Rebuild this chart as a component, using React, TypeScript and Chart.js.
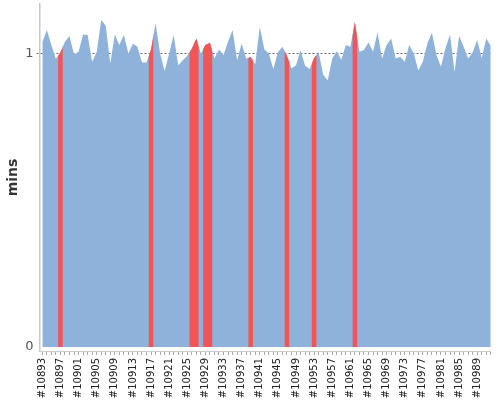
import React, { useEffect, useRef } from "react";
import { Chart, registerables } from "chart.js";

const categories: string[] = [
  "#10893", "#10894", "#10895", "#10896", "#10897", "#10898", "#10899", "#10900", "#10901", "#10902",
  "#10903", "#10904", "#10905", "#10906", "#10907", "#10908", "#10909", "#10910", "#10911", "#10912",
  "#10913", "#10914", "#10915", "#10916", "#10917", "#10918", "#10919", "#10920", "#10921", "#10922",
  "#10923", "#10924", "#10925", "#10926", "#10927", "#10928", "#10929", "#10930", "#10931", "#10932",
  "#10933", "#10934", "#10935", "#10936", "#10937", "#10938", "#10939", "#10940", "#10941", "#10942",
  "#10943", "#10944", "#10945", "#10946", "#10947", "#10948", "#10949", "#10950", "#10951", "#10952",
  "#10953", "#10954", "#10955", "#10956", "#10957", "#10958", "#10959", "#10960", "#10961", "#10962",
  "#10963", "#10964", "#10965", "#10966", "#10967", "#10968", "#10969", "#10970", "#10971", "#10972",
  "#10973", "#10974", "#10975", "#10976", "#10977", "#10978", "#10979", "#10980", "#10981", "#10982",
  "#10983", "#10984", "#10985", "#10986", "#10987", "#10988", "#10989", "#10990", "#10991", "#10992",
];

const durations: number[] = [
  1.039, 1.081, 1.030, 0.982, 1.005, 1.041, 1.061, 0.998, 1.007, 1.066,
  1.064, 0.973, 1.005, 1.115, 1.096, 0.967, 1.066, 1.030, 1.064, 1.001,
  1.034, 1.024, 0.970, 0.970, 1.015, 1.104, 1.001, 0.941, 1.001, 1.064,
  0.961, 0.978, 0.993, 1.017, 1.052, 1.001, 1.030, 1.038, 0.984, 1.015,
  0.996, 1.041, 1.081, 0.978, 1.035, 0.984, 0.989, 0.964, 1.092, 1.016,
  1.001, 0.948, 1.005, 1.024, 0.993, 0.950, 0.961, 1.013, 0.959, 0.948,
  0.986, 1.005, 0.929, 0.910, 0.984, 1.009, 0.980, 1.030, 1.024, 1.109,
  1.007, 1.013, 1.039, 1.007, 1.073, 0.984, 1.030, 1.052, 0.984, 0.990,
  0.973, 1.030, 1.001, 0.944, 0.973, 1.035, 1.073, 0.996, 0.956, 1.020,
  1.066, 0.939, 1.061, 1.024, 0.984, 1.005, 1.047, 0.986, 1.052, 1.027,
];

const highlighted: string[] = [
  "#10897", "#10917", "#10926", "#10927", "#10929", "#10930", "#10939", "#10947", "#10953", "#10962",
];

const yTicks: number[] = [0, 1];

const BLUE = "#8FB2DB";
const RED = "#F25555";

const highlightClip = {
  id: "highlightClip",
  beforeDatasetDraw(chart: any, args: any) {
    const ds = chart.data.datasets[args.index];
    if (ds.label !== "highlight") return;
    const xs = chart.scales.x;
    const area = chart.chartArea;
    const ctx = chart.ctx;
    ctx.save();
    ctx.beginPath();
    for (const lab of highlighted) {
      const i = categories.indexOf(lab);
      if (i < 0) continue;
      const l = xs.getPixelForValue(i - 0.5);
      const r = xs.getPixelForValue(i + 0.5);
      ctx.rect(l, area.top, r - l, area.bottom - area.top);
    }
    ctx.clip();
  },
  afterDatasetDraw(chart: any, args: any) {
    const ds = chart.data.datasets[args.index];
    if (ds.label !== "highlight") return;
    chart.ctx.restore();
  },
};

Chart.register(highlightClip as any);
Chart.register(...registerables);

export default function App() {
  const ref = useRef<HTMLCanvasElement | null>(null);
  useEffect(() => {
    if (!ref.current) return;
    const points = durations.map((v, i) => ({ x: i, y: v }));
    const chart = new Chart(ref.current, {
      type: "line",
      data: {
        datasets: [
          {
            label: "highlight",
            data: points,
            backgroundColor: RED,
            borderWidth: 0,
            pointRadius: 0,
            fill: "origin",
            tension: 0,
          },
          {
            label: "mins",
            data: points,
            backgroundColor: BLUE,
            borderWidth: 0,
            pointRadius: 0,
            fill: "origin",
            tension: 0,
          },
        ],
      },
      options: {
        responsive: false,
        animation: false,
        events: [],
        layout: { padding: { top: 4, right: 9.2, left: 0, bottom: 0 } },
        plugins: { legend: { display: false }, tooltip: { enabled: false } },
        scales: {
          x: {
            type: "linear",
            min: -0.62,
            max: 99,
            afterBuildTicks: (s: any) => {
              s.ticks = categories.map((_, i) => ({ value: i }));
            },
            afterFit: (s: any) => {
              s.height = 49;
              s.paddingLeft = 0;
              s.paddingRight = 0;
            },
            grid: {
              drawOnChartArea: false,
              drawTicks: true,
              tickLength: 4,
              tickColor: "#aaaaaa",
            },
            border: { display: true, color: "#cccccc", width: 1 },
            ticks: {
              autoSkip: false,
              minRotation: 90,
              maxRotation: 90,
              padding: 3,
              color: "#222222",
              font: { family: "DejaVu Sans", size: 10 },
              callback: (_v: any, index: number) => (index % 4 === 0 ? categories[index] : ""),
            },
          },
          y: {
            type: "linear",
            min: -0.014,
            max: 1.17,
            z: 1,
            afterBuildTicks: (s: any) => {
              s.ticks = yTicks.map((v) => ({ value: v }));
            },
            afterFit: (s: any) => {
              s.width = 39.5;
              s.paddingTop = 0;
              s.paddingBottom = 0;
            },
            grid: {
              drawOnChartArea: true,
              drawTicks: true,
              tickLength: 3,
              color: (c: any) => (c.tick && c.tick.value === 1 ? "#666666" : "rgba(0,0,0,0)"),
              tickColor: (c: any) => (c.tick && c.tick.value === 1 ? "#666666" : "rgba(0,0,0,0)"),
              tickBorderDash: [2, 2],
            },
            border: { display: true, color: "#c8c8c8", width: 1.5, dash: [2, 2] },
            ticks: {
              padding: 3,
              color: "#555555",
              font: { family: "DejaVu Sans", size: 13 },
            },
            title: {
              display: true,
              text: "mins",
              color: "#333333",
              font: { family: "DejaVu Sans", size: 14, weight: "bold" },
              padding: { top: 5, bottom: 0 },
            },
          },
        },
      },
    } as any);
    return () => chart.destroy();
  }, []);
  return (
    <canvas
      ref={ref}
      width={500}
      height={400}
      style={{ position: "absolute", left: 0, top: 0, width: 500, height: 400 }}
    />
  );
}
